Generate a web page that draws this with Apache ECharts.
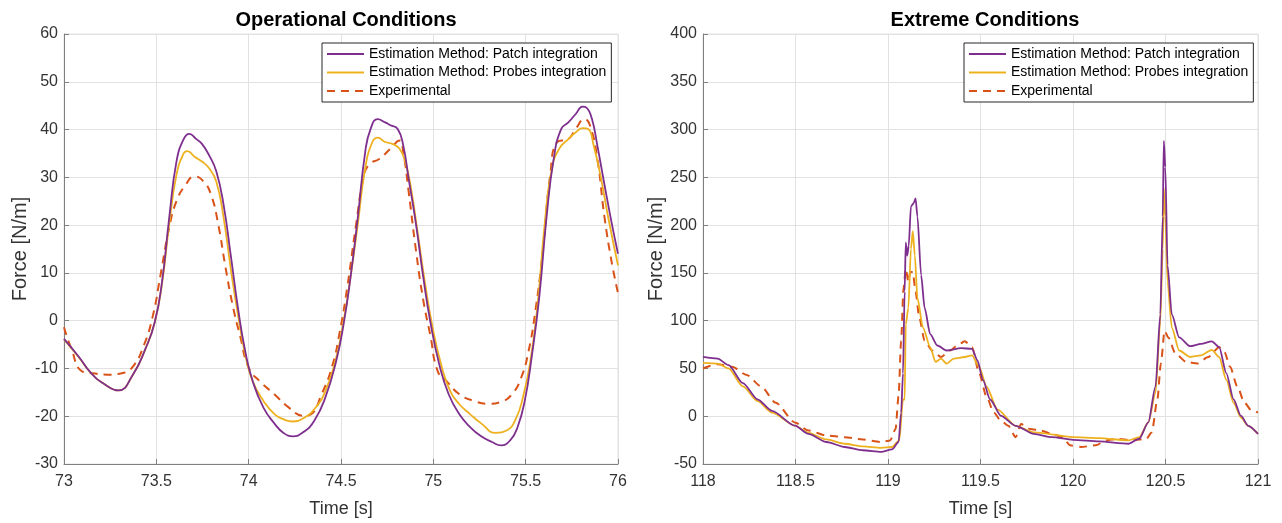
<!DOCTYPE html>
<html>
<head>
<meta charset="utf-8">
<title>Force estimation</title>
<script src="https://cdn.jsdelivr.net/npm/echarts@6/dist/echarts.min.js"></script>
<style>
  html, body { margin: 0; padding: 0; background: #fff; }
  #chart { width: 1282px; height: 523px; }
</style>
</head>
<body>
<div id="chart"></div>
<script>
// ---- Operational conditions (t = 73 s .. 76 s) ----
const opPatchT = [73.0, 73.079, 73.147, 73.216, 73.295, 73.373, 73.442, 73.491, 73.530, 73.570, 73.609, 73.648, 73.678, 73.717, 73.747, 73.786, 73.825, 73.864, 73.904, 73.943, 73.982, 74.022, 74.080, 74.141, 74.189, 74.238, 74.297, 74.356, 74.415, 74.473, 74.513, 74.552, 74.591, 74.631, 74.660, 74.699, 74.739, 74.768, 74.807, 74.837, 74.866, 74.906, 74.945, 74.984, 75.033, 75.083, 75.141, 75.200, 75.259, 75.318, 75.367, 75.417, 75.456, 75.495, 75.534, 75.574, 75.613, 75.652, 75.692, 75.731, 75.770, 75.809, 75.829, 75.859, 75.888, 75.927, 75.967, 76.0];
const opPatchF = [-3.8, -7.5, -11.0, -13.2, -14.6, -11.3, -5.8, -0.4, 7.9, 21.6, 33.3, 38.0, 39.1, 38.0, 37.0, 34.6, 31.2, 24.3, 13.4, 2.4, -6.5, -12.7, -18.2, -21.6, -23.5, -24.2, -23.3, -20.9, -16.1, -8.6, -1.0, 9.2, 21.6, 35.3, 40.1, 42.2, 41.5, 40.9, 40.1, 36.7, 29.8, 20.2, 9.2, -0.3, -9.3, -15.4, -19.6, -22.3, -24.2, -25.4, -26.1, -25.0, -22.3, -16.8, -7.2, 5.1, 21.6, 33.9, 40.1, 41.5, 43.2, 44.8, 44.6, 42.2, 36.7, 28.4, 20.2, 14.0];

const opProbesT = [73.0, 73.079, 73.147, 73.216, 73.295, 73.373, 73.442, 73.491, 73.530, 73.570, 73.609, 73.648, 73.668, 73.707, 73.747, 73.786, 73.825, 73.864, 73.904, 73.943, 73.982, 74.022, 74.080, 74.141, 74.198, 74.238, 74.297, 74.356, 74.415, 74.473, 74.513, 74.552, 74.591, 74.631, 74.670, 74.699, 74.739, 74.778, 74.817, 74.847, 74.876, 74.916, 74.955, 74.994, 75.043, 75.092, 75.141, 75.200, 75.259, 75.338, 75.397, 75.446, 75.485, 75.525, 75.564, 75.603, 75.642, 75.682, 75.731, 75.770, 75.809, 75.839, 75.868, 75.908, 75.947, 76.0];
const opProbesF = [-3.9, -7.6, -11.0, -13.2, -14.6, -11.3, -5.8, -0.4, 7.5, 20.2, 30.5, 35.0, 35.5, 34.3, 33.3, 31.9, 29.1, 21.6, 10.6, 1.0, -7.2, -12.7, -16.8, -19.6, -20.8, -21.1, -20.4, -18.5, -14.8, -7.9, -0.3, 9.2, 20.2, 31.9, 37.4, 38.3, 37.4, 37.0, 36.0, 33.3, 28.4, 18.2, 7.9, -1.0, -9.3, -14.8, -17.5, -19.6, -21.5, -23.5, -23.0, -20.6, -16.1, -8.6, 3.1, 20.2, 31.9, 36.0, 38.0, 39.4, 40.3, 40.1, 36.7, 29.8, 21.6, 11.6];

const opExpT = [73.0, 73.039, 73.098, 73.157, 73.236, 73.314, 73.373, 73.432, 73.481, 73.521, 73.570, 73.609, 73.658, 73.707, 73.756, 73.796, 73.835, 73.874, 73.914, 73.953, 74.002, 74.061, 74.139, 74.218, 74.297, 74.336, 74.395, 74.454, 74.493, 74.532, 74.582, 74.621, 74.650, 74.709, 74.768, 74.817, 74.837, 74.866, 74.906, 74.945, 74.984, 75.024, 75.073, 75.141, 75.220, 75.299, 75.367, 75.426, 75.475, 75.515, 75.554, 75.593, 75.633, 75.672, 75.731, 75.770, 75.819, 75.849, 75.888, 75.927, 75.967, 76.0];
const opExpF = [-1.4, -5.8, -10.6, -11.0, -11.3, -11.0, -9.6, -5.2, 1.0, 9.2, 19.5, 25.0, 28.4, 30.2, 29.1, 26.4, 20.2, 11.3, 3.1, -3.1, -10.0, -12.7, -15.4, -18.2, -19.9, -19.6, -15.4, -9.3, -2.4, 6.5, 20.2, 29.8, 32.6, 33.9, 36.0, 37.7, 35.3, 27.1, 14.7, 4.4, -3.1, -10.6, -12.7, -15.4, -16.8, -17.4, -17.0, -15.4, -12.0, -6.5, 2.4, 14.7, 30.5, 37.4, 38.0, 40.1, 42.2, 40.8, 33.9, 21.6, 12.0, 5.8];

// ---- Extreme conditions (t = 118 s .. 121 s) ----
const exPatchT = [118.0, 118.079, 118.138, 118.216, 118.295, 118.373, 118.497, 118.570, 118.668, 118.766, 118.864, 118.963, 119.022, 119.057, 119.071, 119.081, 119.090, 119.096, 119.104, 119.112, 119.124, 119.139, 119.149, 119.159, 119.179, 119.198, 119.228, 119.267, 119.316, 119.395, 119.454, 119.483, 119.513, 119.552, 119.611, 119.690, 119.788, 119.886, 120.0, 120.141, 120.299, 120.358, 120.407, 120.446, 120.472, 120.485, 120.491, 120.499, 120.511, 120.534, 120.574, 120.633, 120.692, 120.750, 120.790, 120.829, 120.868, 120.908, 120.947, 121.0];
const exPatchF = [62.0, 60.3, 53.4, 34.6, 17.5, 5.5, -9.9, -18.5, -27.0, -32.2, -35.6, -37.3, -34.6, -27.0, 3.4, 44.9, 130.5, 181.8, 168.0, 178.4, 219.5, 222.9, 228.0, 209.2, 147.6, 113.3, 86.0, 74.0, 68.8, 71.2, 70.5, 58.6, 38.0, 17.5, 0.3, -10.0, -18.5, -21.9, -24.7, -26.4, -28.8, -23.6, -6.5, 31.2, 106.5, 209.2, 288.0, 260.6, 157.9, 106.5, 82.5, 73.3, 75.7, 78.4, 72.3, 44.9, 17.5, 0.3, -10.0, -18.5];

const exProbesT = [118.0, 118.079, 118.138, 118.216, 118.295, 118.373, 118.497, 118.570, 118.668, 118.766, 118.864, 118.963, 119.022, 119.061, 119.081, 119.090, 119.096, 119.110, 119.124, 119.134, 119.145, 119.159, 119.189, 119.228, 119.257, 119.287, 119.316, 119.356, 119.415, 119.454, 119.493, 119.532, 119.591, 119.690, 119.788, 120.0, 120.141, 120.299, 120.358, 120.407, 120.446, 120.472, 120.485, 120.491, 120.499, 120.511, 120.534, 120.574, 120.633, 120.692, 120.750, 120.790, 120.829, 120.868, 120.908, 120.947, 121.0];
const exProbesF = [55.8, 55.1, 50.0, 31.2, 15.8, 3.8, -9.9, -17.5, -24.3, -28.8, -31.5, -33.2, -32.2, -25.3, 17.5, 17.5, 96.2, 113.3, 175.0, 193.8, 168.0, 123.6, 92.8, 72.3, 56.8, 60.3, 55.1, 60.3, 62.0, 63.7, 51.7, 31.2, 7.2, -10.0, -16.8, -21.9, -22.9, -25.3, -21.9, -6.5, 24.3, 99.7, 175.0, 238.4, 209.2, 140.8, 92.8, 68.8, 62.0, 63.7, 69.5, 62.0, 38.0, 14.1, -1.4, -10.0, -18.5];

const exExpT = [118.0, 118.079, 118.157, 118.236, 118.314, 118.393, 118.497, 118.570, 118.668, 118.766, 118.864, 118.963, 119.012, 119.041, 119.057, 119.071, 119.084, 119.096, 119.110, 119.120, 119.134, 119.149, 119.169, 119.198, 119.238, 119.287, 119.336, 119.375, 119.415, 119.454, 119.493, 119.532, 119.572, 119.611, 119.650, 119.690, 119.719, 119.768, 119.827, 119.886, 119.945, 119.984, 120.043, 120.122, 120.181, 120.240, 120.318, 120.397, 120.426, 120.456, 120.475, 120.495, 120.515, 120.554, 120.613, 120.672, 120.731, 120.790, 120.819, 120.849, 120.888, 120.927, 120.967, 121.0];
const exExpF = [50.0, 54.5, 51.7, 43.2, 31.2, 14.1, -6.5, -15.0, -20.2, -21.9, -24.3, -27.0, -25.3, -13.4, 20.8, 79.0, 133.9, 154.4, 140.8, 151.0, 151.0, 130.5, 103.1, 79.0, 68.8, 62.0, 68.8, 74.0, 78.4, 72.3, 44.9, 20.8, 3.8, -4.8, -10.0, -21.9, -8.2, -13.4, -15.0, -18.5, -21.9, -30.5, -32.2, -30.5, -25.3, -23.6, -25.3, -23.6, -16.8, 17.5, 55.1, 89.4, 82.5, 65.4, 56.8, 55.1, 62.0, 72.3, 67.1, 51.7, 31.2, 14.1, 5.5, 3.8];

const titles = ['Operational Conditions', 'Extreme Conditions'];
const seriesNames = ['Estimation Method: Patch integration', 'Estimation Method: Probes integration', 'Experimental'];
const xTicksOp = { min: 73, max: 76, interval: 0.5 };
const xTicksEx = { min: 118, max: 121, interval: 0.5 };
const yTicksOp = { min: -30, max: 60, interval: 10 };
const yTicksEx = { min: -50, max: 400, interval: 50 };

const zip = (t, f) => t.map((v, i) => [v, f[i]]);

const colors = ['#7E2F8E', '#EDB120', '#D95319'];
const FONT = '"Liberation Sans", Arial, Helvetica, sans-serif';
const AXIS_COLOR = '#7f7f7f';
const GRID_COLOR = '#e2e2e2';
const TEXT_COLOR = '#333333';

function xAxis(idx, ticks) {
  return {
    type: 'value', gridIndex: idx, min: ticks.min, max: ticks.max, interval: ticks.interval,
    name: 'Time [s]', nameLocation: 'middle', nameGap: 36,
    nameTextStyle: { fontFamily: FONT, fontSize: 18, color: TEXT_COLOR },
    axisLine: { show: true, onZero: false, lineStyle: { color: AXIS_COLOR, width: 1 } },
    axisTick: { show: true, inside: true, length: 5, lineStyle: { color: AXIS_COLOR } },
    axisLabel: { fontFamily: FONT, fontSize: 16, color: TEXT_COLOR, margin: 10, showMinLabel: true, showMaxLabel: true },
    splitLine: { show: true, lineStyle: { color: GRID_COLOR, width: 1 } }
  };
}
function yAxis(idx, ticks) {
  return {
    type: 'value', gridIndex: idx, min: ticks.min, max: ticks.max, interval: ticks.interval,
    name: 'Force [N/m]', nameLocation: 'middle', nameGap: 34,
    nameTextStyle: { fontFamily: FONT, fontSize: 20, color: TEXT_COLOR },
    axisLine: { show: true, onZero: false, lineStyle: { color: AXIS_COLOR, width: 1 } },
    axisTick: { show: true, inside: true, length: 5, lineStyle: { color: AXIS_COLOR } },
    axisLabel: { fontFamily: FONT, fontSize: 16, color: TEXT_COLOR, margin: 6 },
    splitLine: { show: true, lineStyle: { color: GRID_COLOR, width: 1 } }
  };
}
function lines(idx, sets, smooth, mono) {
  return sets.map((d, i) => ({
    name: seriesNames[i], type: 'line', xAxisIndex: idx, yAxisIndex: idx,
    data: d, showSymbol: false, symbol: 'none', smooth: smooth, smoothMonotone: mono,
    lineStyle: { color: colors[i], width: i === 2 ? 2 : 1.8, type: i === 2 ? [8, 6] : 'solid' },
    itemStyle: { color: colors[i] },
    z: 3 - i, animation: false
  }));
}
function legend(left) {
  return {
    orient: 'vertical', left: left, top: 43, data: seriesNames,
    itemWidth: 37, itemHeight: 14, itemGap: 4.5,
    padding: [4, 5, 4, 4],
    backgroundColor: '#fff', borderColor: '#262626', borderWidth: 1,
    // line samples only, no marker on them
    itemStyle: { color: 'rgba(0,0,0,0)', borderWidth: 0, opacity: 0 },
    textStyle: { fontFamily: FONT, fontSize: 14, color: '#000' },
    selectedMode: false
  };
}

const chart = echarts.init(document.getElementById('chart'), null, { renderer: 'canvas' });
chart.setOption({
  backgroundColor: '#fff',
  animation: false,
  title: [
    { text: titles[0], left: 341, top: 5, textAlign: 'center',
      textStyle: { fontFamily: FONT, fontSize: 20, fontWeight: 'bold', color: '#000' } },
    { text: titles[1], left: 980, top: 5, textAlign: 'center',
      textStyle: { fontFamily: FONT, fontSize: 20, fontWeight: 'bold', color: '#000' } }
  ],
  legend: [legend(322), legend(964)],
  grid: [
    { left: 64, right: 664, top: 34, bottom: 53, show: true, borderColor: GRID_COLOR, borderWidth: 1 },
    { left: 703, right: 24, top: 34, bottom: 53, show: true, borderColor: GRID_COLOR, borderWidth: 1 }
  ],
  xAxis: [xAxis(0, xTicksOp), xAxis(1, xTicksEx)],
  yAxis: [yAxis(0, yTicksOp), yAxis(1, yTicksEx)],
  series: [
    ...lines(0, [zip(opPatchT, opPatchF), zip(opProbesT, opProbesF), zip(opExpT, opExpF)], 0.5, null),
    ...lines(1, [zip(exPatchT, exPatchF), zip(exProbesT, exProbesF), zip(exExpT, exExpF)], 0.25, 'x')
  ]
});
</script>
</body>
</html>
